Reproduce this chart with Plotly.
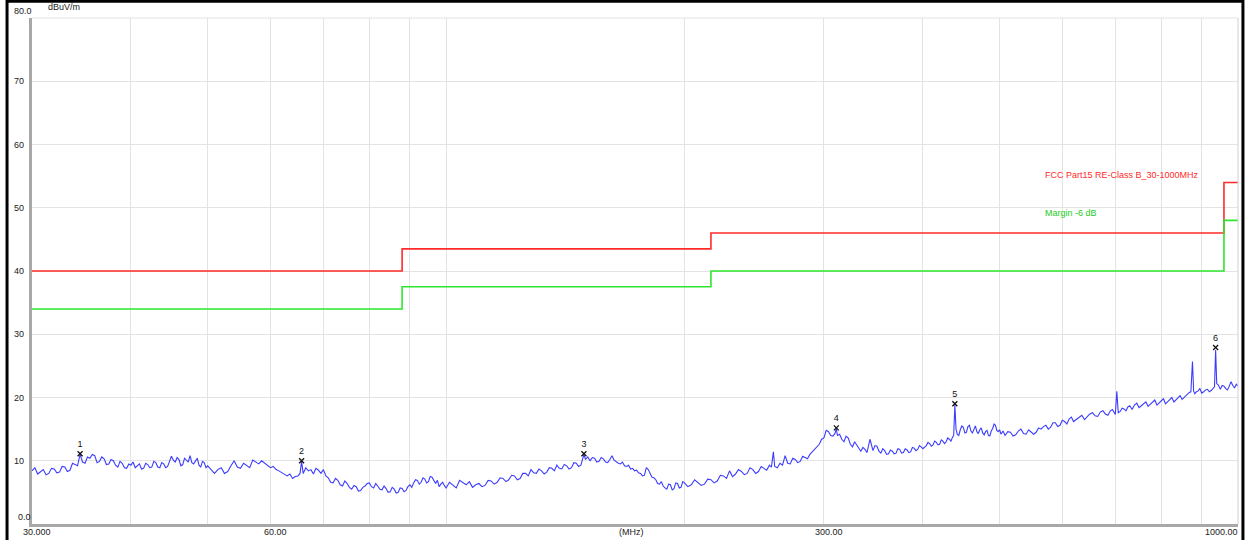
import math
import plotly.graph_objects as go

# ---------------- data ----------------
FREQ_A = [
    30.0, 30.25, 30.5, 30.75, 31.0, 31.25, 31.5, 31.75, 32.0, 32.25,
    32.5, 32.75, 33.0, 33.25, 33.5, 33.75, 34.0, 34.25, 34.5, 34.75,
    35.0, 35.25, 35.5, 35.75, 36.0, 36.25, 36.5, 36.75, 37.0, 37.25,
    37.5, 37.75, 38.0, 38.25, 38.5, 38.75, 39.0, 39.25, 39.5, 39.75,
    40.0, 40.25, 40.5, 40.75, 41.0, 41.25, 41.5, 41.75, 42.0, 42.25,
    42.5, 42.75, 43.0, 43.25, 43.5, 43.75, 44.0, 44.25, 44.5, 44.75,
    45.0, 45.25, 45.5, 45.75, 46.0, 46.25, 46.5, 46.75, 47.0, 47.25,
    47.5, 47.75, 48.0, 48.25, 48.5, 48.75, 49.0, 49.25, 49.5, 49.75,
    50.0,
]
LEVEL_A = [
    8.4, 8.9, 7.9, 8.3, 8.6, 7.8, 8.0, 8.8, 8.7, 8.1,
    8.2, 9.1, 9.0, 8.3, 8.5, 9.6, 9.4, 9.2, 11.0, 9.8,
    9.6, 10.6, 10.4, 11.0, 10.8, 9.7, 9.9, 10.6, 10.3, 9.4,
    9.5, 10.2, 10.0, 9.3, 9.0, 9.9, 9.6, 8.9, 8.8, 9.5,
    9.3, 9.8, 8.9, 9.2, 9.5, 8.7, 8.8, 9.6, 9.4, 8.9,
    9.0, 9.9, 9.7, 9.0, 8.9, 9.7, 9.5, 8.9, 9.1, 9.9,
    10.7, 10.1, 9.8, 10.5, 10.2, 9.2, 9.4, 10.4, 10.0, 9.8,
    10.8, 9.7, 9.5, 9.9, 10.4, 9.3, 9.0, 9.9, 9.7, 8.9,
    9.2,
]

FREQ_B = [
    50.5, 51, 51.5, 52, 52.5, 53, 53.5, 54, 54.5, 55,
    55.5, 56, 56.5, 57, 57.5, 58, 58.5, 59, 59.5, 60,
    60.5, 61, 61.5, 62, 62.5, 63, 63.5, 64, 64.5, 65,
    65.4, 65.7, 66, 66.5, 67, 67.5, 68, 68.5, 69, 69.5,
    70, 70.5, 71, 71.5, 72, 72.5, 73, 73.5, 74, 74.5,
    75, 75.5, 76, 76.5, 77, 77.5, 78, 78.5, 79, 79.5,
    80, 80.5, 81, 81.5, 82, 82.5, 83, 83.5, 84, 84.5,
    85, 85.5, 86, 86.5, 87, 87.5, 88, 88.5, 89, 89.5,
    90, 90.5, 91, 91.5, 92, 92.5, 93, 93.5, 94, 94.5,
    95, 95.5, 96, 96.5, 97, 97.5, 98, 98.5, 99, 99.5,
    100,
]
LEVEL_B = [
    8.6, 8.0, 8.6, 8.9, 8.0, 8.3, 9.2, 10.0, 9.0, 8.8,
    9.6, 9.3, 8.9, 10.1, 9.8, 9.5, 10.0, 9.6, 9.2, 8.9,
    9.1, 8.6, 8.4, 8.1, 7.8, 7.6, 7.9, 7.2, 7.5, 7.6,
    8.0, 9.9, 8.0, 8.9, 8.4, 8.6, 7.9, 8.8, 8.5, 8.0,
    8.6, 7.6, 7.3, 6.6, 6.5, 7.2, 6.9, 6.2, 6.0, 6.8,
    6.4, 5.8, 5.5, 6.1, 5.9, 5.2, 5.3, 5.8, 6.0, 6.4,
    6.5, 5.9, 5.7, 6.4, 6.0, 5.5, 5.4, 6.0, 5.6, 5.0,
    5.1, 5.8, 5.5, 4.9, 5.0, 5.7, 5.6, 5.1, 5.3, 5.9,
    6.2, 5.8, 6.5, 7.0, 6.9, 6.3, 6.6, 7.3, 7.1, 6.5,
    6.7, 7.5, 7.4, 6.9, 6.4, 6.9, 5.9, 6.3, 6.6, 6.1,
    5.7,
]

FREQ_C = [
    101, 102, 103, 104, 105, 106, 107, 108, 109, 110,
    111, 112, 113, 114, 115, 116, 117, 118, 119, 120,
    121, 122, 123, 124, 125, 126, 127, 128, 129, 130,
    131, 132, 133, 134, 135, 136, 137, 138, 139, 140,
    141, 142, 143, 144, 145, 146, 147, 148, 149.3, 150,
    151, 152, 153, 154, 155, 156, 157, 158, 159, 160,
    161, 162, 163, 164, 165, 166, 167, 168, 169, 170,
    171, 172, 173, 174, 175, 176, 177, 178, 179, 180,
    181, 182, 183, 184, 185, 186, 187, 188, 189, 190,
    191, 192, 193, 194, 195, 196, 197, 198, 199, 200,
]
LEVEL_C = [
    6.6, 6.2, 5.7, 6.9, 6.5, 6.2, 6.7, 5.8, 6.2, 6.4,
    5.9, 6.1, 6.9, 6.8, 6.3, 6.6, 7.3, 7.2, 6.7, 7.0,
    7.7, 7.6, 7.0, 7.2, 8.0, 8.0, 7.6, 8.6, 8.1, 8.0,
    8.7, 8.4, 7.9, 8.2, 8.9, 8.8, 8.4, 9.3, 8.8, 8.7,
    9.4, 9.2, 8.7, 8.9, 9.7, 9.6, 9.1, 9.3, 11.0, 10.2,
    10.6, 10.0, 10.5, 10.4, 9.8, 9.9, 10.5, 10.3, 9.8, 9.7,
    10.2, 10.8, 10.1, 9.8, 9.6, 9.5, 9.8, 9.2, 9.1, 9.3,
    8.7, 8.8, 8.4, 8.5, 8.1, 8.0, 7.6, 7.7, 8.9, 8.6,
    7.9, 7.4, 7.3, 7.0, 6.4, 6.3, 6.7, 6.0, 5.7, 5.5,
    6.3, 6.2, 5.4, 5.6, 6.5, 6.4, 5.7, 5.8, 6.7, 6.5,
]

FREQ_D = [
    202, 204, 206, 208, 210, 212, 214, 216, 218, 220,
    222, 224, 226, 228, 230, 232, 234, 236, 238, 240,
    242, 244, 246, 248, 250, 252, 254, 256, 257.5, 259,
    260, 262, 264, 266, 268, 270, 272, 274, 276, 278,
    280, 282, 284, 286, 288, 290, 292, 294, 296, 298,
    300, 302, 304, 306, 308, 310, 311, 312, 314, 316,
    318, 320, 322, 324, 326, 328, 330, 332, 334, 336,
    338, 340, 343, 346, 348, 350, 352, 354, 356, 358,
    360, 362, 364, 366, 368, 370, 372, 374, 376, 378,
    380, 382, 384, 386, 388, 390, 392, 394, 396, 398,
    400,
]
LEVEL_D = [
    5.9, 6.2, 7.0, 6.6, 6.1, 6.3, 7.1, 7.0, 6.5, 6.8,
    7.7, 7.6, 7.2, 8.4, 7.5, 7.9, 8.6, 8.3, 7.8, 8.0,
    8.9, 8.6, 8.0, 8.3, 9.1, 8.8, 8.5, 9.3, 9.0, 11.4,
    9.1, 8.9, 9.6, 9.3, 10.8, 9.6, 9.5, 10.4, 10.2, 9.7,
    9.9, 10.7, 10.5, 10.3, 11.0, 11.4, 11.8, 12.3, 12.6, 13.4,
    13.6, 14.8, 14.6, 14.0, 13.9, 14.4, 15.1, 14.0, 14.2, 13.4,
    13.0, 13.9, 13.6, 12.6, 12.2, 13.0, 12.5, 11.8, 11.5, 12.1,
    11.8, 11.3, 13.4, 11.6, 12.4, 12.3, 11.5, 11.2, 11.9, 11.6,
    11.0, 11.1, 11.7, 11.5, 11.1, 11.2, 11.9, 11.8, 11.2, 11.3,
    11.9, 11.7, 11.3, 11.4, 12.1, 12.0, 11.6, 11.8, 12.4, 12.2,
    11.9,
]

FREQ_E = [
    404, 406, 408, 410, 412, 414, 416, 418, 420, 422,
    424, 426, 428, 430, 432, 434, 436, 437.5, 439, 440.5,
    442, 444, 446, 448, 450, 452, 454, 456, 458, 460,
    462, 464, 466, 468, 470, 472, 474, 476, 478, 480,
    482, 484, 486, 488, 490, 492, 494, 496, 498, 500,
    502, 505, 508, 512, 516, 520, 524, 528, 532, 536,
    540, 544, 548, 552, 556, 560, 564, 568, 572, 576,
    580, 584, 588, 592, 596, 600, 604, 608, 612, 616,
    620, 625, 630, 635, 640, 645, 650, 655, 660, 665,
    670, 675, 680, 685, 690, 694, 698, 700, 703, 706,
    710, 714, 718, 722, 726, 730, 735, 740, 745, 750,
    755, 760, 765, 770, 775, 780, 785, 790, 795, 800,
    805, 810, 815, 820, 825, 830, 835, 840, 845, 850,
    855, 860, 864, 868, 872, 876, 879, 882, 886, 890,
    895, 900, 905, 910, 915, 920, 925, 930, 934, 937,
    940, 944, 947, 950, 955, 960, 965, 970, 975, 980,
    985, 990, 995, 1000,
]
LEVEL_E = [
    12.4, 12.9, 12.7, 12.3, 12.5, 13.1, 12.9, 12.5, 12.6, 13.3,
    13.1, 12.7, 13.0, 13.6, 13.4, 13.1, 13.7, 14.0, 18.8, 15.0,
    14.2, 14.0, 14.9, 15.5, 15.3, 14.4, 14.5, 15.4, 15.6, 14.7,
    14.4, 15.0, 15.5, 14.6, 14.3, 14.9, 15.2, 14.4, 14.1, 14.6,
    14.8, 14.0, 13.9, 14.7, 15.1, 15.8, 15.6, 14.8, 14.6, 14.9,
    14.2, 14.7, 14.0, 14.6, 14.5, 13.9, 14.1, 14.7, 15.0, 14.3,
    14.2, 14.9, 14.6, 14.2, 14.5, 15.2, 15.0, 15.4, 15.6, 15.0,
    15.3, 16.0, 16.0, 15.4, 15.6, 16.4, 16.2, 15.8, 16.6, 16.9,
    16.2, 16.5, 16.9, 17.2, 16.5, 16.9, 17.4, 17.6, 17.1, 17.0,
    17.7, 17.9, 17.4, 17.2, 17.9, 18.1, 17.5, 17.3, 21.0, 17.6,
    17.8, 18.3, 18.2, 17.9, 18.5, 18.7, 18.1, 18.8, 19.1, 18.4,
    18.7, 19.0, 19.3, 18.6, 18.9, 19.2, 19.6, 18.8, 19.1, 19.4,
    19.8, 19.0, 19.3, 19.7, 20.0, 19.3, 19.6, 20.0, 20.3, 19.7,
    20.0, 20.3, 20.6, 20.8, 20.9, 25.7, 21.0, 20.6, 20.9, 21.0,
    21.4, 20.7, 20.9, 21.2, 21.3, 20.9, 21.1, 21.5, 21.7, 27.5,
    22.2, 22.0, 21.5, 21.3, 21.9, 21.8, 21.4, 21.2, 21.8, 22.5,
    21.9, 21.5, 22.1, 21.8,
]

LIMIT_FREQ = [30, 88, 216, 960, 1000]
LIMIT_LEVEL = [40.0, 43.5, 46.0, 54.0, 54.0]
MARGIN_LEVEL = [34.0, 37.5, 40.0, 48.0, 48.0]

MARK_ID = ["1", "2", "3", "4", "5", "6"]
MARK_FREQ = [34.5, 65.7, 149.3, 311, 439, 937]
MARK_LEVEL = [11.1, 10.0, 11.1, 15.2, 19.0, 27.9]

X_GRID = [30, 40, 50, 60, 70, 80, 90, 100, 200, 300, 400, 500, 600, 700, 800, 900, 1000]
X_LABEL_FREQ = [30, 60, 300, 1000]
X_LABEL_TEXT = ["30.000", "60.00", "300.00", "1000.00"]
Y_TICKS = [0, 10, 20, 30, 40, 50, 60, 70, 80]
Y_TICK_TEXT = ["0.0", "10", "20", "30", "40", "50", "60", "70", "80.0"]

LIMIT_NAME = "FCC Part15 RE-Class B_30-1000MHz"
MARGIN_NAME = "Margin -6 dB"
Y_UNIT = "dBuV/m"
X_UNIT = "(MHz)"

# ---------------- assemble ----------------
FREQ_MHZ = FREQ_A + FREQ_B + FREQ_C + FREQ_D + FREQ_E
LEVEL_DBUV = LEVEL_A + LEVEL_B + LEVEL_C + LEVEL_D + LEVEL_E
assert len(FREQ_MHZ) == len(LEVEL_DBUV), (len(FREQ_MHZ), len(LEVEL_DBUV))

FONT = "Liberation Sans, Arial, sans-serif"
TXT = "#222222"

fig = go.Figure()
fig.add_trace(go.Scatter(
    x=LIMIT_FREQ, y=LIMIT_LEVEL, mode="lines", line_shape="hv",
    line=dict(color="#ff2a2a", width=1.6), hoverinfo="skip", showlegend=False))
fig.add_trace(go.Scatter(
    x=LIMIT_FREQ, y=MARGIN_LEVEL, mode="lines", line_shape="hv",
    line=dict(color="#2ee62e", width=1.6), hoverinfo="skip", showlegend=False))
fig.add_trace(go.Scatter(
    x=FREQ_MHZ, y=LEVEL_DBUV, mode="lines",
    line=dict(color="#3c3cff", width=1.1), showlegend=False))
fig.add_trace(go.Scatter(
    x=MARK_FREQ, y=MARK_LEVEL, mode="markers+text", text=MARK_ID,
    textposition="top center", textfont=dict(family=FONT, size=9, color="#111"),
    marker=dict(symbol="x-thin", size=5, line=dict(color="#111", width=1.3)),
    showlegend=False))

fig.update_xaxes(
    type="log", range=[1.4771212547, 3.0], tickvals=X_GRID, showticklabels=False,
    showgrid=True, gridcolor="#e3e3e3", gridwidth=1,
    showline=True, linecolor="#a8a8a8", linewidth=3, ticks="", zeroline=False)
fig.update_yaxes(
    range=[0, 80], tickvals=Y_TICKS, showticklabels=False,
    showgrid=True, gridcolor="#e3e3e3", gridwidth=1,
    showline=True, linecolor="#a8a8a8", linewidth=3, ticks="", zeroline=False)

shapes = [
    dict(type="line", xref="paper", yref="paper", x0=1, x1=1, y0=0, y1=1,
         line=dict(color="#d0d0d0", width=1)),
    dict(type="line", xref="paper", yref="paper", x0=0, x1=1, y0=1, y1=1,
         line=dict(color="#e3e3e3", width=1)),
    dict(type="rect", xref="paper", yref="paper", x0=-0.0207, x1=1.0041, y0=-0.06, y1=1.033,
         line=dict(color="black", width=3), fillcolor="rgba(0,0,0,0)"),
]

small = dict(family=FONT, size=9, color=TXT)
annotations = []
# y tick labels (end labels nudged inward like the original)
for v, t in zip(Y_TICKS, Y_TICK_TEXT):
    yshift = 7 if v in (Y_TICKS[0], Y_TICKS[-1]) else 0
    xpos = -0.0133 if v == Y_TICKS[0] else -0.0166
    annotations.append(dict(text=t, xref="paper", yref="y", x=xpos, y=v, yshift=yshift,
                            xanchor="left", yanchor="middle", showarrow=False, font=small))
# x tick labels
for f, t in zip(X_LABEL_FREQ, X_LABEL_TEXT):
    last = f == X_LABEL_FREQ[-1]
    annotations.append(dict(text=t, xref="x", yref="paper", x=math.log10(f), y=-0.0158,
                            xanchor="right" if last else "center",
                            xshift=2 if last else 5,
                            yanchor="middle", showarrow=False, font=small))
annotations += [
    dict(text=Y_UNIT, xref="paper", yref="paper", x=0.012, y=1.022, xanchor="left",
         yanchor="middle", showarrow=False, font=small),
    dict(text=X_UNIT, xref="paper", yref="paper", x=0.4975, y=-0.0158, xanchor="center",
         yanchor="middle", showarrow=False, font=small),
    dict(text=LIMIT_NAME, xref="paper", yref="y", x=0.838, y=55.1, xanchor="left",
         yanchor="middle", showarrow=False, font=dict(family=FONT, size=9, color="#ff2a2a")),
    dict(text=MARGIN_NAME, xref="paper", yref="y", x=0.838, y=49.1, xanchor="left",
         yanchor="middle", showarrow=False, font=dict(family=FONT, size=9, color="#22cc22")),
]

fig.update_layout(
    template="none",
    width=1245, height=540,
    margin=dict(l=32, r=7, t=18, b=16, pad=0),
    paper_bgcolor="white", plot_bgcolor="white",
    shapes=shapes, annotations=annotations,
    font=small,
)

fig.write_html(
    "out.html",
    config={"displayModeBar": False},
    post_script="document.body.style.margin='0';document.body.style.overflow='hidden';",
)
